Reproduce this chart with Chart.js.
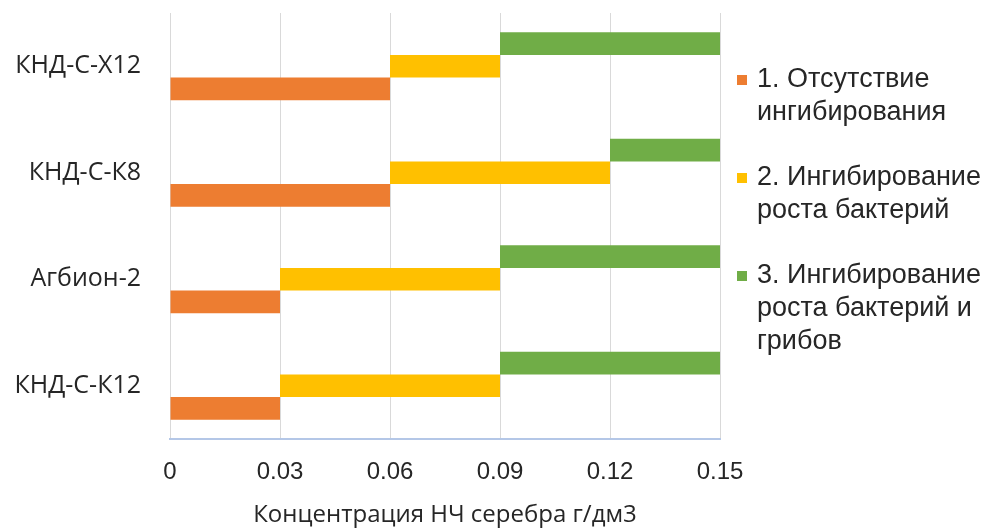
<!DOCTYPE html>
<html>
<head>
<meta charset="utf-8">
<script src="https://cdn.jsdelivr.net/npm/chart.js@4"></script>
<style>
    body { margin: 0; background: #fff; }
    #wrap { position: relative; width: 985px; height: 528px; overflow: hidden; }
    #legend { position: absolute; left: 733px; top: 62px; font-family: "Liberation Sans", Arial, sans-serif; font-size: 27px; color: #262626; line-height: 33px; white-space: nowrap; }
    .item { position: relative; padding-left: 24px; margin-bottom: 32px; }
    .box { position: absolute; left: 4px; top: 13px; width: 10px; height: 10px; }
</style>
</head>
<body>
<div id="wrap">
    <canvas id="chart" width="985" height="528"></canvas>
    <div id="legend"></div>
</div>
<script>
const categories = ['КНД-С-Х12', 'КНД-С-К8', 'Агбион-2', 'КНД-С-К12'];
const noInhibitionEnd = [0.06, 0.06, 0.03, 0.03];
const bacteriaEnd = [0.09, 0.12, 0.09, 0.09];
const maxConc = 0.15;
const xTicks = [0, 0.03, 0.06, 0.09, 0.12, 0.15];
const seriesNames = ['1. Отсутствие ингибирования', '2. Ингибирование роста бактерий', '3. Ингибирование роста бактерий и грибов'];
const legendLines = [
    ['1. Отсутствие', 'ингибирования'],
    ['2. Ингибирование', 'роста бактерий'],
    ['3. Ингибирование', 'роста бактерий и', 'грибов']
];
const colors = ['#ED7D31', '#FFC000', '#70AD47'];

// floating bars: [start, end]
const orangeData = categories.map((c, i) => [0, noInhibitionEnd[i]]);
const yellowData = categories.map((c, i) => [noInhibitionEnd[i], bacteriaEnd[i]]);
const greenData = categories.map((c, i) => [bacteriaEnd[i], maxConc]);

// build the legend on the right
const legend = document.getElementById('legend');
legendLines.forEach((lines, i) => {
    legend.insertAdjacentHTML('beforeend',
        `<div class="item"><span class="box" style="background:${colors[i]}"></span>${lines.join('<br>')}</div>`);
});

const ctx = document.getElementById('chart').getContext('2d');
new Chart(ctx, {
    type: 'bar',
    data: {
        labels: categories,
        datasets: [
            { label: seriesNames[2], data: greenData, backgroundColor: colors[2] },
            { label: seriesNames[1], data: yellowData, backgroundColor: colors[1] },
            { label: seriesNames[0], data: orangeData, backgroundColor: colors[0] },
        ],
    },
    options: {
        indexAxis: 'y',
        responsive: false,
        animation: false,
        layout: { padding: { left: 0, right: 265, top: 13, bottom: 0 } },
        categoryPercentage: 0.64,
        barPercentage: 1,
        scales: {
            x: {
                min: 0,
                max: maxConc,
                afterBuildTicks: (scale) => { scale.ticks = xTicks.map(v => ({ value: v })); },
                afterFit: (scale) => { scale.height = 89; },
                grid: { color: '#d9d9d9', drawTicks: false },
                border: { color: '#b4c7e7', width: 2 },
                ticks: {
                    color: '#262626',
                    padding: 19,
                    font: { family: 'Liberation Sans', size: 24 },
                    callback: (v) => String(v),
                },
                title: {
                    display: true,
                    text: 'Концентрация НЧ серебра г/дм3',
                    color: '#262626',
                    font: { family: 'Open Sans', size: 24 },
                    padding: { top: 4, bottom: -2 },
                },
            },
            y: {
                afterFit: (scale) => {
                    scale.width = 170;
                    scale.paddingTop = 0;
                    scale.paddingBottom = 0;
                },
                grid: { display: false, drawTicks: false },
                border: { display: false },
                ticks: {
                    color: '#262626',
                    padding: 29,
                    font: { family: 'Open Sans', size: 25 },
                },
            },
        },
        plugins: {
            legend: { display: false },
            tooltip: { enabled: false },
        },
    },
});
</script>
</body>
</html>
